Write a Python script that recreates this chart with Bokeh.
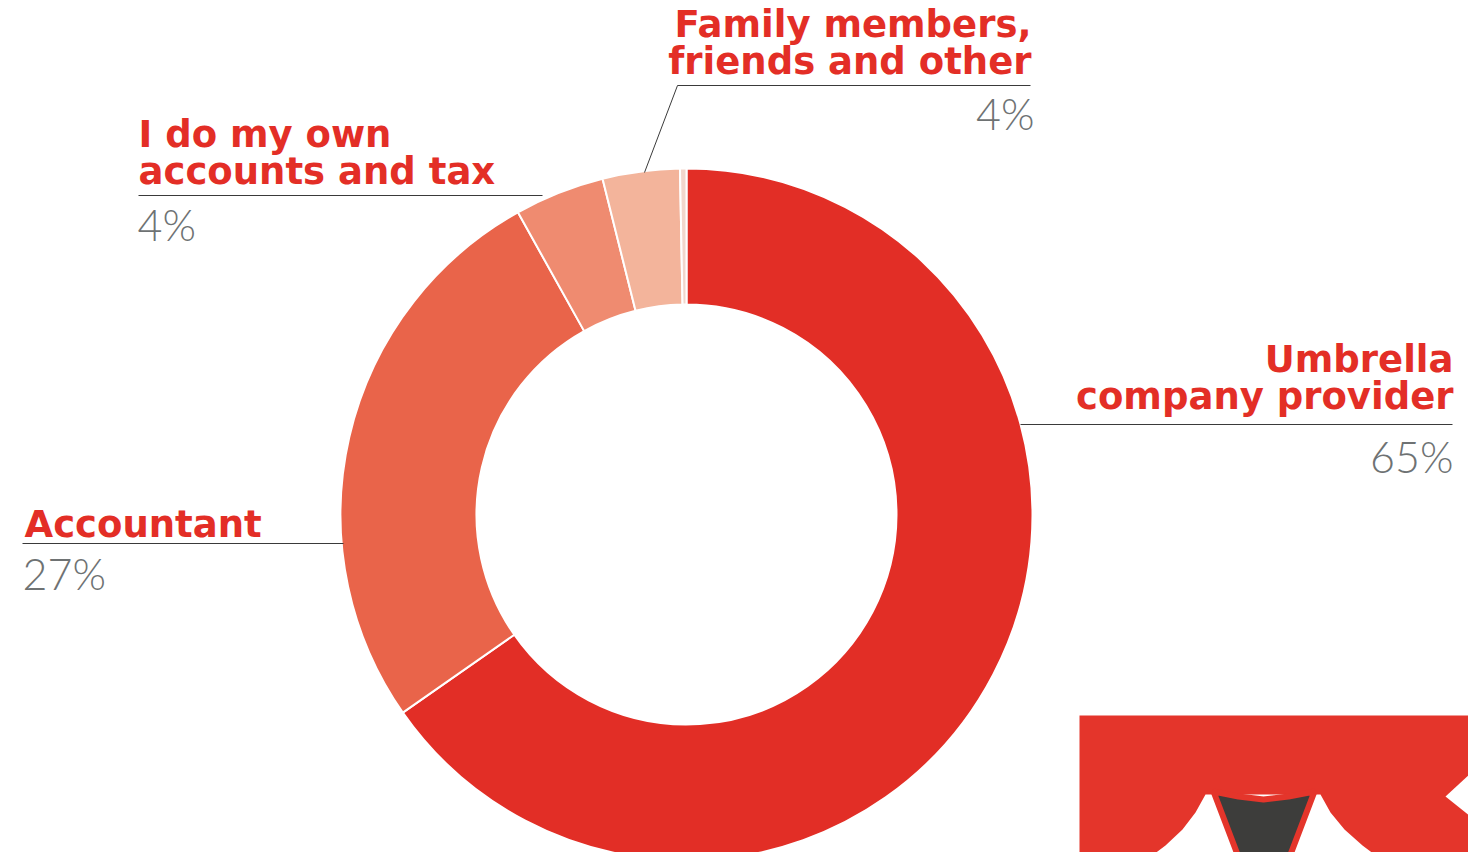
import math
from bokeh.plotting import figure
from bokeh.models import Range1d
from bokeh.core.properties import value
from bokeh.embed import file_html
from bokeh.resources import INLINE

# ---- data ----
categories = ["Umbrella company provider", "Accountant", "I do my own accounts and tax",
              "Family members, friends and other", "Other (unlabelled)"]
shares = [65.3, 26.6, 4.2, 3.6, 0.3]
slice_colors = ["#e22e26", "#e9644a", "#ef8b70", "#f3b49b", "#f2d6cc"]
label_lines = [["Umbrella", "company provider"], ["Accountant"],
               ["I do my own", "accounts and tax"], ["Family members,", "friends and other"]]
pct_labels = ["65%", "27%", "4%", "4%"]

W, H = 1468, 852
PAGE_H = 868
def Y(sy):
    return PAGE_H - sy

p = figure(width=W, height=H, output_backend="svg", toolbar_location=None,
           x_range=Range1d(8, 8 + W), y_range=Range1d(PAGE_H - 8 - H, PAGE_H - 8),
           min_border=0)
p.axis.visible = False
p.grid.visible = False
p.outline_line_color = None
p.background_fill_color = "white"
p.border_fill_color = "white"

# ---- donut ----
cx, cy = 694, Y(522)
r_in, r_out = 210, 346
total = sum(shares)
cum = 0.0
starts, ends = [], []
for s in shares:
    a0 = math.pi / 2 - 2 * math.pi * (cum + s) / total
    a1 = math.pi / 2 - 2 * math.pi * cum / total
    starts.append(a0)
    ends.append(a1)
    cum += s
p.annular_wedge(x=[cx] * len(shares), y=[cy] * len(shares), inner_radius=r_in, outer_radius=r_out,
                start_angle=starts, end_angle=ends, fill_color=slice_colors,
                line_color="white", line_width=2)

# ---- leader lines ----
lc = "#3a3a3a"
p.line([1028, 1460], [Y(432), Y(432)], line_color=lc, line_width=1)
p.line([30, 351], [Y(551), Y(551)], line_color=lc, line_width=1)
p.line([146, 550], [Y(203), Y(203)], line_color=lc, line_width=1)
p.line([652, 685, 1038], [Y(180), Y(93), Y(93)], line_color=lc, line_width=1)

# ---- labels ----
red = "#e32e26"
grey = "#6e7273"
bold_font = value("DejaVu Sans")
light_font = value("Lato Light, Lato")
lab_px = 37
pct_px = 43
lab_shift = 0.36 * lab_px
pct_shift = 0.38 * pct_px

label_pos = [(1461, [380, 417], "right", 1461, 480),
             (32, [545], "left", 30, 597),
             (146, [155, 192], "left", 145, 248),
             (1039, [45, 82], "right", 1042, 137)]
for lines, pct, (tx, bys, al, px, py) in zip(label_lines, pct_labels, label_pos):
    p.text(x=[tx] * len(lines), y=[Y(b - lab_shift) for b in bys], text=lines, text_color=red,
           text_font=bold_font, text_font_style="bold", text_font_size=f"{lab_px}px",
           text_align=al, text_baseline="alphabetic")
    p.text(x=[px], y=[Y(py - pct_shift)], text=[pct], text_color=grey, text_font=light_font,
           text_font_size=f"{pct_px}px", text_align=al, text_baseline="alphabetic")

# ---- decorative logo (bottom right) ----
logo_red = "#e4352b"
p.patch([1087, 1490, 1490, 1087], [Y(723), Y(723), Y(880), Y(880)], fill_color=logo_red, line_color=None)
wx = [1213, 1203, 1190, 1173, 1153, 1150, 1393, 1390, 1370, 1352, 1338, 1328]
wy = [802, 820, 837, 853, 868, 880, 880, 868, 853, 837, 820, 802]
p.patch(wx, [Y(v) for v in wy], fill_color="white", line_color=None)
tx_ = [1221, 1246, 1271, 1296, 1322, 1298, 1292, 1250, 1245]
ty_ = [799, 804, 807, 804, 799, 862, 880, 880, 862]
p.patch(tx_, [Y(v) for v in ty_], fill_color="#3d3d3b", line_color=logo_red, line_width=6)
rx = [1453, 1480, 1490, 1490, 1478]
ry = [804, 779, 779, 822, 824]
p.patch(rx, [Y(v) for v in ry], fill_color="white", line_color=None)

open("out.html", "w").write(file_html(p, INLINE))
